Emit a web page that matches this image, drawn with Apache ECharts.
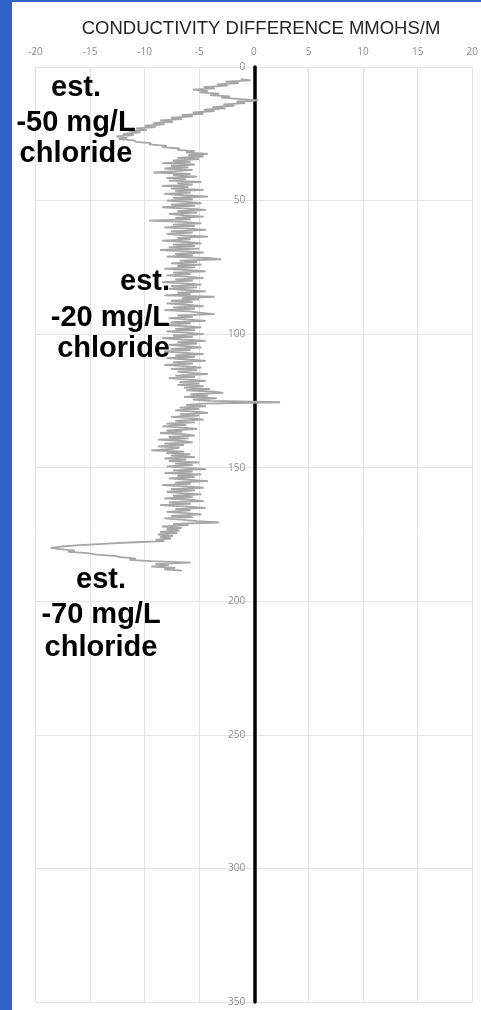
<!DOCTYPE html>
<html>
<head>
<meta charset="utf-8">
<script src="https://cdn.jsdelivr.net/npm/echarts@6/dist/echarts.min.js"></script>
<style>
html,body{margin:0;padding:0;background:#fff;}
#c{width:481px;height:1010px;}
</style>
</head>
<body>
<div id="c"></div>
<script>
// Chart data
const TITLE = 'CONDUCTIVITY DIFFERENCE MMOHS/M';
const X_TICKS = [-20, -15, -10, -5, 0, 5, 10, 15, 20];
const DEPTH_TICKS = [0, 50, 100, 150, 200, 250, 300, 350];
const DEPTH_START = 4.5;
const DEPTH_STEP = 0.5;
// conductivity difference (mmohs/m), one reading every DEPTH_STEP from DEPTH_START
const conductivity = [
  -1.2, -0.3, -2.6, -1.4, -3.4, -2.4, -4.6, -3.6, -5.6, -4.2,
  -5.0, -3.2, -4.0, -2.2, -3.0, -1.2, 0.4, -1.6, -0.8, -2.8,
  -1.8, -3.8, -2.6, -4.6, -3.6, -5.6, -4.6, -6.6, -5.6, -7.6,
  -6.6, -8.6, -7.4, -9.2, -8.2, -10.0, -9.0, -10.8, -9.8, -11.4,
  -10.4, -12.0, -11.0, -12.6, -11.6, -12.4, -11.0, -10.8, -9.4, -9.6,
  -8.0, -8.4, -6.8, -7.0, -5.4, -6.2, -4.2, -6.0, -4.6, -7.0,
  -5.0, -7.4, -5.8, -8.4, -5.4, -7.6, -6.0, -8.2, -5.6, -7.2,
  -9.2, -5.8, -7.4, -5.2, -8.0, -6.2, -7.8, -4.8, -7.0, -5.6,
  -8.4, -6.0, -7.6, -4.6, -7.2, -5.8, -8.2, -6.4, -4.2, -7.4,
  -5.6, -8.0, -6.2, -4.8, -7.6, -5.4, -8.4, -6.0, -4.4, -7.0,
  -5.2, -7.8, -6.4, -4.6, -7.2, -5.8, -9.6, -6.6, -4.8, -7.4,
  -5.4, -8.2, -6.0, -4.4, -7.6, -5.6, -8.0, -6.4, -4.2, -7.0,
  -5.8, -8.4, -6.2, -4.8, -7.4, -5.4, -7.8, -5.0, -8.6, -6.0,
  -4.6, -7.2, -5.6, -8.0, -4.2, -3.0, -6.8, -5.2, -7.6, -4.8,
  -7.0, -5.4, -8.2, -6.0, -4.4, -7.4, -5.8, -8.0, -6.2, -4.6,
  -7.2, -5.6, -8.4, -6.4, -4.8, -7.6, -5.2, -7.8, -6.0, -4.4,
  -7.0, -5.8, -8.2, -3.6, -6.6, -5.0, -7.6, -5.6, -8.0, -6.2,
  -4.6, -7.4, -5.4, -8.2, -6.0, -4.8, -3.6, -7.0, -5.6, -7.8,
  -6.2, -4.4, -7.6, -5.8, -8.6, -6.4, -4.8, -7.2, -5.4, -8.0,
  -6.0, -4.6, -7.4, -5.6, -8.4, -6.6, -4.4, -7.0, -5.2, -7.8,
  -6.2, -4.8, -7.6, -5.8, -8.2, -6.4, -4.6, -7.2, -5.4, -8.0,
  -6.0, -4.4, -7.4, -5.6, -8.2, -6.4, -4.8, -7.6, -5.2, -7.0,
  -5.8, -4.2, -7.2, -5.4, -7.8, -6.0, -4.4, -6.8, -5.0, -7.0,
  -4.6, -6.4, -4.0, -6.2, -3.6, -2.8, -5.8, -4.2, -6.4, -3.4,
  -5.6, -4.0, 2.4, -4.6, -6.2, -4.4, -6.8, -5.0, -7.2, -5.4,
  -4.2, -6.8, -5.0, -7.6, -5.6, -4.6, -7.2, -5.4, -8.0, -6.2,
  -8.4, -6.4, -5.2, -8.0, -6.6, -8.6, -6.2, -5.4, -7.8, -6.0,
  -8.8, -6.6, -5.6, -8.2, -6.4, -8.8, -6.8, -7.6, -9.4, -6.4,
  -8.0, -5.8, -7.6, -5.4, -8.2, -6.2, -7.8, -5.0, -7.2, -5.6,
  -8.0, -6.4, -4.4, -7.4, -5.6, -8.2, -4.8, -7.0, -5.4, -7.8,
  -6.0, -4.2, -7.2, -5.8, -8.4, -6.2, -4.6, -7.6, -5.4, -8.0,
  -6.6, -4.8, -7.4, -5.6, -8.2, -6.0, -4.6, -7.8, -5.8, -8.6,
  -6.4, -4.4, -7.2, -5.8, -8.0, -6.2, -4.8, -7.6, -5.6, -8.2,
  -6.4, -5.2, -3.2, -7.4, -6.0, -8.4, -6.6, -8.0, -6.8, -8.6,
  -7.0, -8.8, -7.4, -8.6, -7.6, -9.0, -8.2, -11.5, -13.8, -16.0,
  -17.6, -18.6, -17.8, -16.4, -17.0, -15.2, -14.4, -12.8, -12.2, -10.8,
  -11.4, -9.4, -5.8, -9.0, -7.8, -9.4, -7.2, -8.2, -6.6
];
const annotations = [
  { lines: ['est.', '-50 mg/L', 'chloride'] },
  { lines: ['est.', '-20 mg/L', 'chloride'] },
  { lines: ['est.', '-70 mg/L', 'chloride'] }
];

const seriesData = conductivity.map((v, i) => [v, DEPTH_START + i * DEPTH_STEP]);

// annotation layout (pixels)
const annLayout = [
  { x: 76, align: 'center', base: [102, 137, 168] },
  { x: 170, align: 'right', base: [296, 332, 363] },
  { x: 101, align: 'center', base: [594, 629, 662] }
];
const ANN_FONT = 29;
const graphics = [
  { type: 'rect', shape: { x: 0, y: 0, width: 12, height: 1010 }, style: { fill: '#3263C9' }, z: 100 },
  { type: 'rect', shape: { x: 0, y: 0, width: 481, height: 2 }, style: { fill: '#3263C9' }, z: 100 }
];
annotations.forEach((a, ai) => {
  const L = annLayout[ai];
  a.lines.forEach((t, li) => {
    graphics.push({
      type: 'text', z: 50,
      style: {
        text: t, x: L.x, y: L.base[li],
        align: L.align, verticalAlign: 'bottom',
        font: 'bold ' + ANN_FONT + 'px "Liberation Sans", Arial, sans-serif',
        fill: '#000'
      }
    });
  });
});

const GRID_LEFT = 35.5, GRID_RIGHT = 8;
const plotW = 481 - GRID_LEFT - GRID_RIGHT;
const zeroOffset = -plotW * (0 - X_TICKS[0]) / (X_TICKS[X_TICKS.length - 1] - X_TICKS[0]);

const chart = echarts.init(document.getElementById('c'), null, { renderer: 'canvas' });
chart.setOption({
  animation: false,
  backgroundColor: '#fff',
  title: {
    text: TITLE, left: 256, top: 14, textAlign: 'center',
    textStyle: { fontFamily: '"Liberation Sans", Arial, sans-serif', fontSize: 18.5, fontWeight: 'normal', color: '#262626' }
  },
  grid: { left: GRID_LEFT, right: GRID_RIGHT, top: 67, bottom: 8, containLabel: false },
  xAxis: {
    type: 'value', position: 'top', min: X_TICKS[0], max: X_TICKS[X_TICKS.length - 1], interval: 5,
    axisLine: { show: false }, axisTick: { show: false },
    axisLabel: { color: '#8c8c8c', fontSize: 10, fontFamily: '"Open Sans", sans-serif', margin: 10, showMinLabel: true, showMaxLabel: true },
    splitLine: { show: true, lineStyle: { color: '#e4e4e4', width: 1 } }
  },
  yAxis: {
    type: 'value', inverse: true, position: 'left', offset: zeroOffset,
    min: DEPTH_TICKS[0], max: DEPTH_TICKS[DEPTH_TICKS.length - 1], interval: 50,
    axisLine: { show: true, onZero: false, lineStyle: { color: '#000', width: 3.5 } },
    axisTick: { show: false },
    axisLabel: { color: '#8c8c8c', fontSize: 10, fontFamily: '"Open Sans", sans-serif', margin: 9 },
    splitLine: { show: true, lineStyle: { color: '#e4e4e4', width: 1 } }
  },
  series: [{
    type: 'line', data: seriesData, showSymbol: false, symbol: 'none',
    lineStyle: { color: '#a6a6a6', width: 1.8 }, z: 1
  }],
  graphic: graphics
});
</script>
</body>
</html>
